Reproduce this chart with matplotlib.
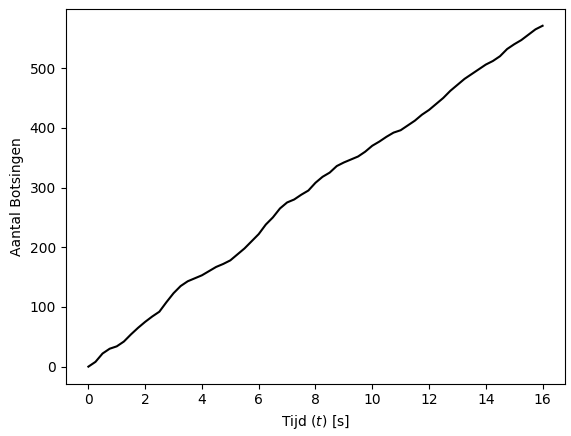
import matplotlib
matplotlib.use("Agg")
import matplotlib.pyplot as plt

tijd = [0, 0.25, 0.5, 0.75, 1, 1.25, 1.5, 1.75, 2, 2.25, 2.5, 2.75, 3, 3.25, 3.5, 3.75, 4, 4.25, 4.5, 4.75,
        5, 5.25, 5.5, 5.75, 6, 6.25, 6.5, 6.75, 7, 7.25, 7.5, 7.75, 8, 8.25, 8.5, 8.75, 9, 9.25, 9.5, 9.75,
        10, 10.25, 10.5, 10.75, 11, 11.25, 11.5, 11.75, 12, 12.25, 12.5, 12.75, 13, 13.25, 13.5, 13.75,
        14, 14.25, 14.5, 14.75, 15, 15.25, 15.5, 15.75, 16]
botsingen = [0, 8, 22, 30, 34, 42, 54, 65, 75, 84, 92, 108, 123, 135, 143, 148, 153, 160, 167, 172,
             178, 188, 198, 210, 222, 238, 250, 265, 275, 280, 288, 295, 308, 318, 325, 336, 342, 347, 352, 360,
             370, 377, 385, 392, 396, 404, 412, 422, 430, 440, 450, 462, 472, 482, 490, 498, 506, 512, 520, 532,
             540, 547, 556, 565, 571]

fig, ax = plt.subplots(figsize=(5.71, 4.36), dpi=100)
ax.plot(tijd, botsingen, color="black")
ax.set_xlabel("Tijd ($t$) [s]")
ax.set_ylabel("Aantal Botsingen")
ax.set_xticks(range(0, 17, 2))
fig.subplots_adjust(left=0.115, right=0.99, top=0.98, bottom=0.12)
fig.savefig("out.png")
